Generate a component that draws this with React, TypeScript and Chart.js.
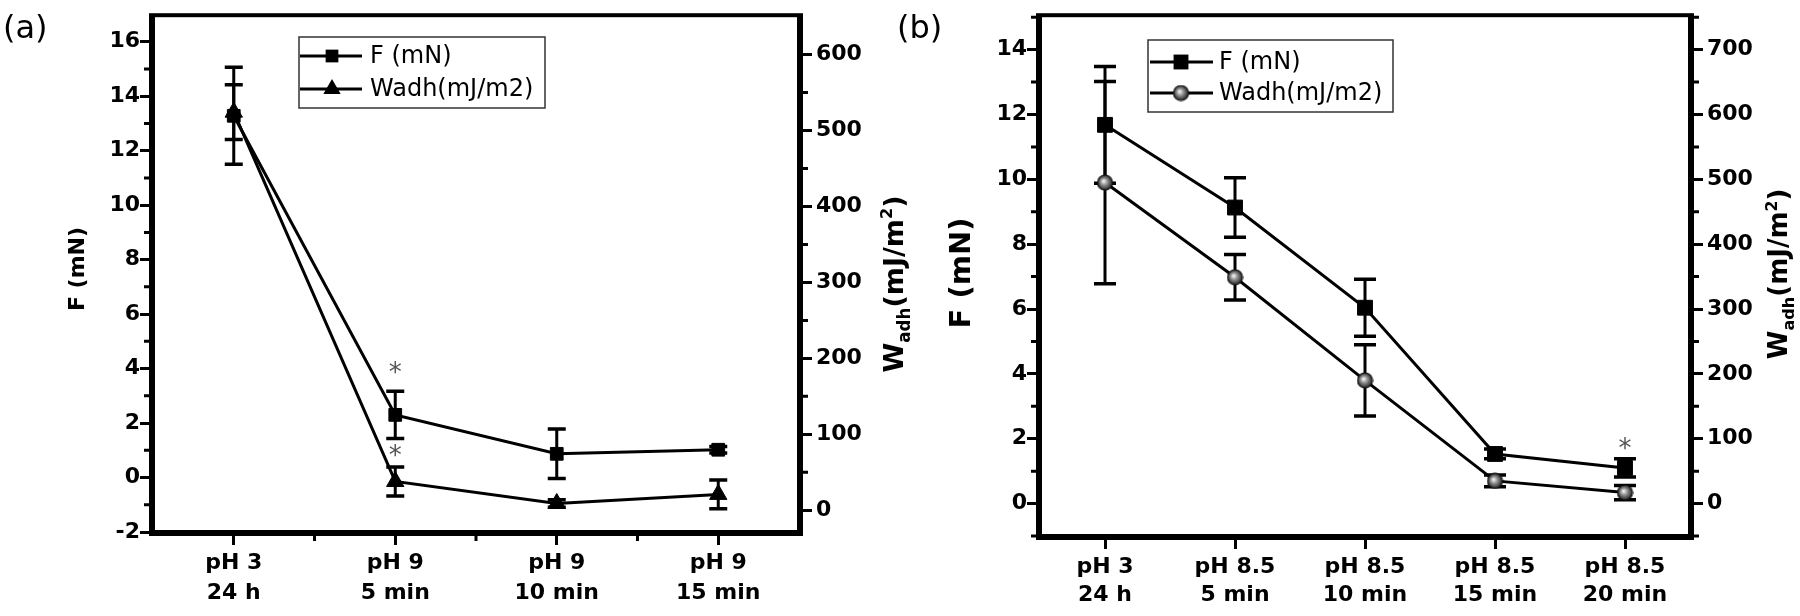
import React, { useEffect, useRef } from "react";
import { Chart, registerables } from "chart.js";

Chart.register(...registerables);

// ---------------- Panel (a) data ----------------
const categoriesA = [["pH 3", "24 h"], ["pH 9", "5 min"], ["pH 9", "10 min"], ["pH 9", "15 min"]];
const forceA = [13.28, 2.3, 0.87, 1.02];
const forceErrA = [1.78, 0.87, 0.91, 0.12];
const wadhA = [524, 38, 9, 21];
const wadhErrA = [36, 19, 5, 19];
const starForceA = [false, true, false, false];
const starWadhA = [false, true, false, false];
const leftTicksA = [-2, 0, 2, 4, 6, 8, 10, 12, 14, 16];
const rightTicksA = [0, 100, 200, 300, 400, 500, 600];
const leftRangeA = [-2, 16.9];
const rightRangeA = [-28.5, 649];
const leftMinorA = 1;
const rightMinorA = 50;

// ---------------- Panel (b) data ----------------
const categoriesB = [["pH 3", "24 h"], ["pH 8.5", "5 min"], ["pH 8.5", "10 min"], ["pH 8.5", "15 min"], ["pH 8.5", "20 min"]];
const forceB = [11.68, 9.13, 6.04, 1.53, 1.1];
const forceErrB = [1.8, 0.92, 0.88, 0.15, 0.28];
const wadhB = [495, 349, 190, 35, 17];
const wadhErrB = [156, 35, 55, 9, 11];
const starForceB = [false, false, false, false, true];
const starWadhB = [false, false, false, false, false];
const leftTicksB = [0, 2, 4, 6, 8, 10, 12, 14];
const rightTicksB = [0, 100, 200, 300, 400, 500, 600, 700];
const leftRangeB = [-1, 15];
const rightRangeB = [-50, 750];
const leftMinorB = 1;
const rightMinorB = 50;

const seriesLabels = ["F (mN)", "Wadh(mJ/m2)"];
const leftTitle = "F (mN)";

const FAMILY = "'DejaVu Sans', sans-serif";

type Layout = {
  left: number; width: number; padTop: number; leftW: number; rightW: number; xH: number;
  lineHeight: number; xPad: number; squareR: number; cap: number; xMinor: boolean;
  legend: { x: number; y: number; w: number; h: number; rows: number[]; lx0: number; lx1: number; mx: number; tx: number };
  titleL: { x: number; y: number; size: number };
  titleR: { x: number; y: number; size: number };
  label: { text: string; x: number; y: number };
  starGapF: number; starGapW: number; wadhStyle: "triangle" | "sphere";
};

type Spec = {
  categories: string[][]; force: number[]; forceErr: number[]; wadh: number[]; wadhErr: number[];
  starF: boolean[]; starW: boolean[]; leftTicks: number[]; rightTicks: number[];
  leftRange: number[]; rightRange: number[]; leftMinor: number; rightMinor: number; layout: Layout;
};

const specA: Spec = {
  categories: categoriesA, force: forceA, forceErr: forceErrA, wadh: wadhA, wadhErr: wadhErrA,
  starF: starForceA, starW: starWadhA, leftTicks: leftTicksA, rightTicks: rightTicksA,
  leftRange: leftRangeA, rightRange: rightRangeA, leftMinor: leftMinorA, rightMinor: rightMinorA,
  layout: {
    left: 0, width: 930, padTop: 10, leftW: 153, rightW: 131, xH: 84, lineHeight: 1.36, xPad: 3,
    squareR: 9, cap: 9, xMinor: true,
    legend: { x: 299, y: 37, w: 246, h: 71, rows: [56, 89], lx0: 300, lx1: 362, mx: 332, tx: 370 },
    titleL: { x: 78, y: 269, size: 22 },
    titleR: { x: 893, y: 284, size: 27 },
    label: { text: "(a)", x: 3, y: 30 },
    starGapF: 23, starGapW: 16, wadhStyle: "triangle",
  },
};

const specB: Spec = {
  categories: categoriesB, force: forceB, forceErr: forceErrB, wadh: wadhB, wadhErr: wadhErrB,
  starF: starForceB, starW: starWadhB, leftTicks: leftTicksB, rightTicks: rightTicksB,
  leftRange: leftRangeB, rightRange: rightRangeB, leftMinor: leftMinorB, rightMinor: rightMinorB,
  layout: {
    left: 880, width: 920, padTop: 14, leftW: 160, rightW: 110, xH: 80, lineHeight: 1.27, xPad: 4,
    squareR: 10.5, cap: 11, xMinor: false,
    legend: { x: 268, y: 40, w: 245, h: 72, rows: [62, 93], lx0: 270, lx1: 333, mx: 301, tx: 339 },
    titleL: { x: 82, y: 273, size: 29 },
    titleR: { x: 898, y: 274, size: 26 },
    label: { text: "(b)", x: 17, y: 30 },
    starGapF: 15, starGapW: 15, wadhStyle: "sphere",
  },
};

function makeSphere(): HTMLCanvasElement {
  const c = document.createElement("canvas");
  c.width = 17; c.height = 17;
  const g = c.getContext("2d")!;
  const grad = g.createRadialGradient(7, 7, 0.5, 8.5, 8.5, 8);
  grad.addColorStop(0, "#f4f4f4");
  grad.addColorStop(0.35, "#9a9a9a");
  grad.addColorStop(1, "#151515");
  g.fillStyle = grad;
  g.beginPath(); g.arc(8.5, 8.5, 7.5, 0, Math.PI * 2); g.fill();
  g.lineWidth = 1.2; g.strokeStyle = "#111"; g.stroke();
  return c;
}

function drawWadhTitle(ctx: CanvasRenderingContext2D, cx: number, cy: number, size: number) {
  const parts = [
    { t: "W", s: 1, dy: 0 },
    { t: "adh", s: 0.62, dy: 0.27 },
    { t: "(mJ/m", s: 1, dy: 0 },
    { t: "2", s: 0.6, dy: -0.4 },
    { t: ")", s: 1, dy: 0 },
  ];
  ctx.save();
  ctx.translate(cx, cy);
  ctx.rotate(-Math.PI / 2);
  ctx.fillStyle = "#000";
  ctx.textBaseline = "alphabetic";
  ctx.textAlign = "left";
  let total = 0;
  const widths = parts.map((p) => {
    ctx.font = `bold ${p.s * size}px ${FAMILY}`;
    const w = ctx.measureText(p.t).width;
    total += w;
    return w;
  });
  let x = -total / 2;
  const base = size * 0.36;
  parts.forEach((p, i) => {
    ctx.font = `bold ${p.s * size}px ${FAMILY}`;
    ctx.fillText(p.t, x, base + p.dy * size);
    x += widths[i];
  });
  ctx.restore();
}

function drawMarker(ctx: CanvasRenderingContext2D, kind: string, x: number, y: number, r: number, sphere: HTMLCanvasElement) {
  ctx.fillStyle = "#000";
  if (kind === "rect") {
    const s = r * Math.SQRT1_2;
    ctx.fillRect(x - s, y - s, 2 * s, 2 * s);
  } else if (kind === "triangle") {
    ctx.beginPath();
    ctx.moveTo(x, y - r);
    ctx.lineTo(x + r * Math.cos(Math.PI / 6), y + r * 0.5);
    ctx.lineTo(x - r * Math.cos(Math.PI / 6), y + r * 0.5);
    ctx.closePath();
    ctx.fill();
  } else {
    ctx.drawImage(sphere, x - sphere.width / 2, y - sphere.height / 2);
  }
}

function buildConfig(spec: Spec, sphere: HTMLCanvasElement): any {
  const L = spec.layout;
  const tickFont = { family: FAMILY, size: 22, weight: "bold" as const };

  const decor = {
    id: "decor",
    beforeDatasetsDraw(chart: any) {
      const ctx = chart.ctx as CanvasRenderingContext2D;
      const xs = chart.scales.x;
      ctx.save();
      ctx.strokeStyle = "#000";
      ctx.lineWidth = 3;
      const draw = (vals: number[], errs: number[], scale: any) => {
        vals.forEach((v, i) => {
          const e = errs[i];
          if (!e) return;
          const px = xs.getPixelForValue(i);
          const top = scale.getPixelForValue(v + e);
          const bot = scale.getPixelForValue(v - e);
          ctx.beginPath();
          ctx.moveTo(px, top); ctx.lineTo(px, bot);
          ctx.stroke();
          ctx.lineWidth = 3.5;
          ctx.beginPath();
          ctx.moveTo(px - L.cap, top); ctx.lineTo(px + L.cap, top);
          ctx.moveTo(px - L.cap, bot); ctx.lineTo(px + L.cap, bot);
          ctx.stroke();
          ctx.lineWidth = 3;
        });
      };
      draw(spec.force, spec.forceErr, chart.scales.y);
      draw(spec.wadh, spec.wadhErr, chart.scales.y1);
      ctx.restore();
    },
    afterDraw(chart: any) {
      const ctx = chart.ctx as CanvasRenderingContext2D;
      const a = chart.chartArea;
      const xs = chart.scales.x, ys = chart.scales.y, y1 = chart.scales.y1;
      ctx.save();
      ctx.strokeStyle = "#000";
      ctx.lineWidth = 4;
      ctx.strokeRect(a.left - 2, a.top - 2, a.right - a.left + 4, a.bottom - a.top + 4);

      // minor ticks
      ctx.lineWidth = 3;
      ctx.beginPath();
      for (let v = Math.ceil(spec.leftRange[0] / spec.leftMinor) * spec.leftMinor; v <= spec.leftRange[1]; v += spec.leftMinor) {
        if (spec.leftTicks.includes(v)) continue;
        const py = ys.getPixelForValue(v);
        ctx.moveTo(a.left - 4, py); ctx.lineTo(a.left - 9, py);
      }
      for (let v = Math.ceil(spec.rightRange[0] / spec.rightMinor) * spec.rightMinor; v <= spec.rightRange[1]; v += spec.rightMinor) {
        if (spec.rightTicks.includes(v)) continue;
        const py = y1.getPixelForValue(v);
        ctx.moveTo(a.right + 4, py); ctx.lineTo(a.right + 9, py);
      }
      if (L.xMinor) {
        for (let i = 0; i < spec.categories.length - 1; i++) {
          const px = xs.getPixelForValue(i + 0.5);
          ctx.moveTo(px, a.bottom + 4); ctx.lineTo(px, a.bottom + 9);
        }
      }
      ctx.stroke();

      // asterisks
      ctx.fillStyle = "#555";
      ctx.font = `26px ${FAMILY}`;
      ctx.textAlign = "center";
      ctx.textBaseline = "middle";
      spec.starF.forEach((s, i) => {
        if (!s) return;
        const py = ys.getPixelForValue(spec.force[i] + spec.forceErr[i]) - L.starGapF;
        ctx.fillText("*", xs.getPixelForValue(i), py + 6);
      });
      spec.starW.forEach((s, i) => {
        if (!s) return;
        const py = y1.getPixelForValue(spec.wadh[i] + spec.wadhErr[i]) - L.starGapW;
        ctx.fillText("*", xs.getPixelForValue(i), py + 6);
      });

      // legend
      const lg = L.legend;
      ctx.lineWidth = 1.5;
      ctx.strokeStyle = "#333";
      ctx.strokeRect(lg.x, lg.y, lg.w, lg.h);
      const kinds = ["rect", L.wadhStyle === "triangle" ? "triangle" : "sphere"];
      const radii = [L.squareR, 10];
      lg.rows.forEach((ry, i) => {
        ctx.strokeStyle = "#000";
        ctx.lineWidth = 3;
        ctx.beginPath(); ctx.moveTo(lg.lx0, ry); ctx.lineTo(lg.lx1, ry); ctx.stroke();
        drawMarker(ctx, kinds[i], lg.mx, ry, radii[i], sphere);
        ctx.fillStyle = "#000";
        ctx.font = `24px ${FAMILY}`;
        ctx.textAlign = "left";
        ctx.textBaseline = "middle";
        ctx.fillText(seriesLabels[i], lg.tx, ry + 1);
      });

      // left axis title
      ctx.save();
      ctx.translate(L.titleL.x, L.titleL.y);
      ctx.rotate(-Math.PI / 2);
      ctx.fillStyle = "#000";
      ctx.font = `bold ${L.titleL.size}px ${FAMILY}`;
      ctx.textAlign = "center";
      ctx.textBaseline = "middle";
      ctx.fillText(leftTitle, 0, 0);
      ctx.restore();

      // right axis title
      drawWadhTitle(ctx, L.titleR.x, L.titleR.y, L.titleR.size);

      // panel label
      ctx.fillStyle = "#000";
      ctx.font = `32px ${FAMILY}`;
      ctx.textAlign = "left";
      ctx.textBaseline = "middle";
      ctx.fillText(L.label.text, L.label.x, L.label.y);
      ctx.restore();
    },
  };

  const wadhDataset: any = {
    label: seriesLabels[1], data: spec.wadh, yAxisID: "y1", borderColor: "#000", borderWidth: 3,
    backgroundColor: "#000", tension: 0, fill: false, clip: false,
    pointBackgroundColor: "#000", pointBorderColor: "#000", pointBorderWidth: 1,
  };
  if (L.wadhStyle === "triangle") {
    wadhDataset.pointStyle = "triangle";
    wadhDataset.pointRadius = 10;
  } else {
    wadhDataset.pointStyle = sphere;
    wadhDataset.pointRadius = 8;
  }

  return {
    type: "line",
    data: {
      labels: spec.categories,
      datasets: [
        {
          label: seriesLabels[0], data: spec.force, yAxisID: "y", borderColor: "#000", borderWidth: 3,
          backgroundColor: "#000", tension: 0, fill: false, clip: false,
          pointStyle: "rect", pointRadius: L.squareR, pointBackgroundColor: "#000", pointBorderColor: "#000", pointBorderWidth: 1,
        },
        wadhDataset,
      ],
    },
    options: {
      responsive: false,
      animation: false,
      devicePixelRatio: 1,
      events: [],
      layout: { padding: { top: L.padTop, left: 0, right: 0, bottom: 0 } },
      plugins: { legend: { display: false }, tooltip: { enabled: false }, title: { display: false } },
      scales: {
        x: {
          type: "category",
          offset: true,
          grid: { display: true, drawOnChartArea: false, drawTicks: true, tickLength: 13, tickWidth: 3, tickColor: "#000", offset: false },
          border: { display: true, width: 4, color: "#000" },
          ticks: { color: "#000", font: { ...tickFont, lineHeight: L.lineHeight }, padding: L.xPad, maxRotation: 0, minRotation: 0, autoSkip: false },
          afterFit: (s: any) => { s.height = L.xH; },
        },
        y: {
          type: "linear", position: "left",
          min: spec.leftRange[0], max: spec.leftRange[1],
          afterBuildTicks: (s: any) => { s.ticks = spec.leftTicks.map((v) => ({ value: v })); },
          grid: { display: true, drawOnChartArea: false, drawTicks: true, tickLength: 13, tickWidth: 3, tickColor: "#000" },
          border: { display: true, width: 4, color: "#000" },
          ticks: { color: "#000", font: tickFont, padding: 0 },
          afterFit: (s: any) => { s.width = L.leftW; },
        },
        y1: {
          type: "linear", position: "right",
          min: spec.rightRange[0], max: spec.rightRange[1],
          afterBuildTicks: (s: any) => { s.ticks = spec.rightTicks.map((v) => ({ value: v })); },
          grid: { display: true, drawOnChartArea: false, drawTicks: true, tickLength: 13, tickWidth: 3, tickColor: "#000" },
          border: { display: true, width: 4, color: "#000" },
          ticks: { color: "#000", font: tickFont, padding: 4 },
          afterFit: (s: any) => { s.width = L.rightW; },
        },
      },
    },
    plugins: [decor],
  };
}

function PanelChart({ spec }: { spec: Spec }) {
  const ref = useRef<HTMLCanvasElement>(null);
  useEffect(() => {
    const sphere = makeSphere();
    const chart = new Chart(ref.current!, buildConfig(spec, sphere));
    return () => chart.destroy();
  }, [spec]);
  const L = spec.layout;
  return (
    <canvas
      ref={ref}
      width={L.width}
      height={616}
      style={{ position: "absolute", left: L.left, top: 0, width: L.width, height: 616 }}
    />
  );
}

export default function App() {
  return (
    <div style={{ position: "absolute", left: 0, top: 0, width: 1800, height: 616, background: "#fff", overflow: "hidden" }}>
      <PanelChart spec={specA} />
      <PanelChart spec={specB} />
    </div>
  );
}
